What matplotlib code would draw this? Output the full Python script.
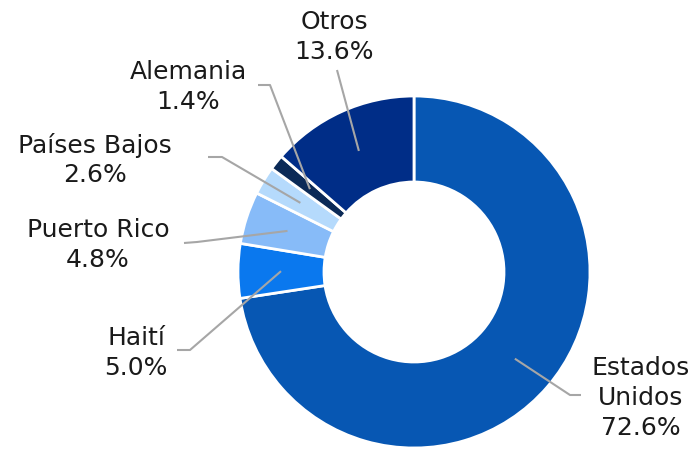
import numpy as np
import matplotlib
matplotlib.use("Agg")
import matplotlib.pyplot as plt

# data (share of total, %)
countries = ["Estados\nUnidos", "Haití", "Puerto Rico", "Países Bajos", "Alemania", "Otros"]
shares = [72.6, 5.0, 4.8, 2.6, 1.4, 13.6]
colors = ["#0757b3", "#0a78ee", "#87bbf8", "#b5dafc", "#0b2a57", "#002d87"]

# label layout in pixel coords: text centre, elbow, end of leader line
text_pos = [(641, 398), (136, 353), (98, 245), (95, 160), (188, 87), (334, 37)]
elbow_pos = [(570, 395), (190, 350), (197, 242), (222, 157), (270, 85), (337, 70)]
end_pos = [(581, 395), (177, 350), (184, 243), (208, 157), (258, 85), (337, 70)]

W, H = 696, 450
CX, CY = 414, 272
R_OUT, R_IN = 176, 90

fig = plt.figure(figsize=(W / 100, H / 100), dpi=100)
ax = fig.add_axes([0, 0, 1, 1])

wedges, _ = ax.pie(
    shares,
    colors=colors,
    startangle=90,
    counterclock=False,
    radius=R_OUT,
    center=(CX, H - CY),
    wedgeprops=dict(width=R_OUT - R_IN, edgecolor="white", linewidth=2),
)
ax.set_xlim(0, W)
ax.set_ylim(0, H)
ax.set_aspect("equal")
ax.axis("off")

r_mid = 133
for w, name, val, tp, ep, en in zip(wedges, countries, shares, text_pos, elbow_pos, end_pos):
    ang = np.deg2rad((w.theta1 + w.theta2) / 2)
    sx = CX + r_mid * np.cos(ang)
    sy = (H - CY) + r_mid * np.sin(ang)
    ax.plot([sx, ep[0], en[0]], [sy, H - ep[1], H - en[1]],
            color="#a6a6a6", linewidth=1.5, solid_capstyle="butt")
    ax.text(tp[0], H - tp[1], f"{name}\n{val:.1f}%", ha="center", va="center",
            fontsize=18, color="#1a1a1a", linespacing=1.3,
            family="DejaVu Sans")

fig.savefig("out.png", dpi=100)
